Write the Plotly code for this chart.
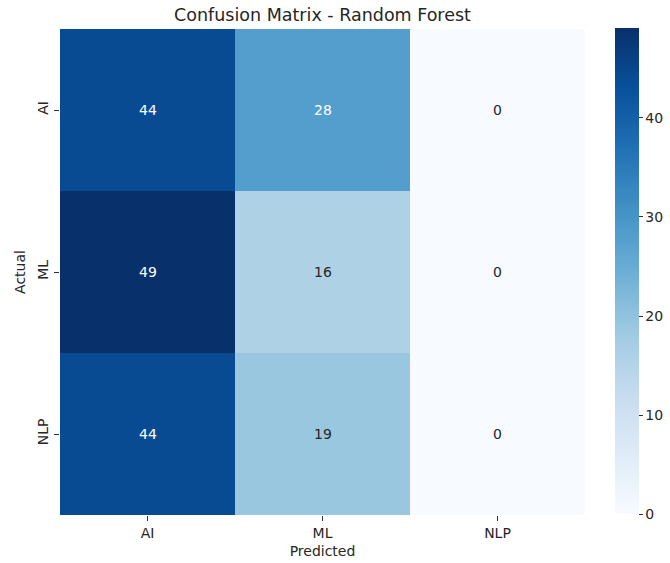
import plotly.graph_objects as go

labels = ["AI", "ML", "NLP"]
values = [
    [44, 28, 0],
    [49, 16, 0],
    [44, 19, 0],
]
colorbar_ticks = [0, 10, 20, 30, 40]

blues = ["#f7fbff", "#deebf7", "#c6dbef", "#9ecae1", "#6baed6",
         "#4292c6", "#2171b5", "#08519c", "#08306b"]
cscale = [[i / (len(blues) - 1), c] for i, c in enumerate(blues)]
vmax = max(max(r) for r in values)
vmin = min(min(r) for r in values)

W, H = 670, 563
x0, x1 = 60, 585
y0, y1 = 29, 515
cb_x = 615

fig = go.Figure(go.Heatmap(
    z=values, x=labels, y=labels,
    colorscale=cscale, zmin=vmin, zmax=vmax,
    xgap=0, ygap=0,
    colorbar=dict(
        x=cb_x / W, xanchor="left", xref="container",
        y=1 - (y0 + 4) / H, yanchor="top", yref="container",
        len=(y1 - y0), lenmode="pixels",
        thickness=24, thicknessmode="pixels",
        outlinewidth=0, xpad=0, ypad=0,
        tickvals=colorbar_ticks, ticks="outside", ticklen=4,
        tickcolor="#333", tickfont=dict(size=14, color="#262626"),
    ),
    hoverinfo="skip",
))

annotations = []
for i, row in enumerate(values):
    for j, v in enumerate(row):
        frac = (v - vmin) / (vmax - vmin)
        col = "#ffffff" if frac > 0.5 else "#262626"
        annotations.append(dict(x=labels[j], y=labels[i], text=str(v),
                                showarrow=False,
                                font=dict(size=14, color=col)))

fig.update_layout(
    width=W, height=H,
    paper_bgcolor="white", plot_bgcolor="white",
    font=dict(family="DejaVu Sans", color="#262626"),
    margin=dict(l=x0, r=W - x1, t=y0, b=H - y1, autoexpand=False),
    title=dict(text="Confusion Matrix - Random Forest", x=(x0 + x1) / 2 / W,
               xanchor="center", y=1 - 15 / H, yanchor="middle",
               font=dict(size=17.5, color="#262626")),
    annotations=annotations,
)
fig.update_xaxes(title=dict(text="Predicted", font=dict(size=14), standoff=6),
                 ticks="outside", ticklen=5, tickcolor="#333",
                 tickfont=dict(size=14), showgrid=False, zeroline=False,
                 showline=False)
fig.update_yaxes(title=dict(text="Actual", font=dict(size=14), standoff=6),
                 autorange="reversed",
                 ticks="outside", ticklen=5, tickcolor="#333",
                 tickfont=dict(size=14), tickangle=-90, showgrid=False,
                 zeroline=False, showline=False)

fig.write_html("out.html", config={"displayModeBar": False},
               post_script="document.body.style.margin='0px';document.body.style.overflow='hidden';")
